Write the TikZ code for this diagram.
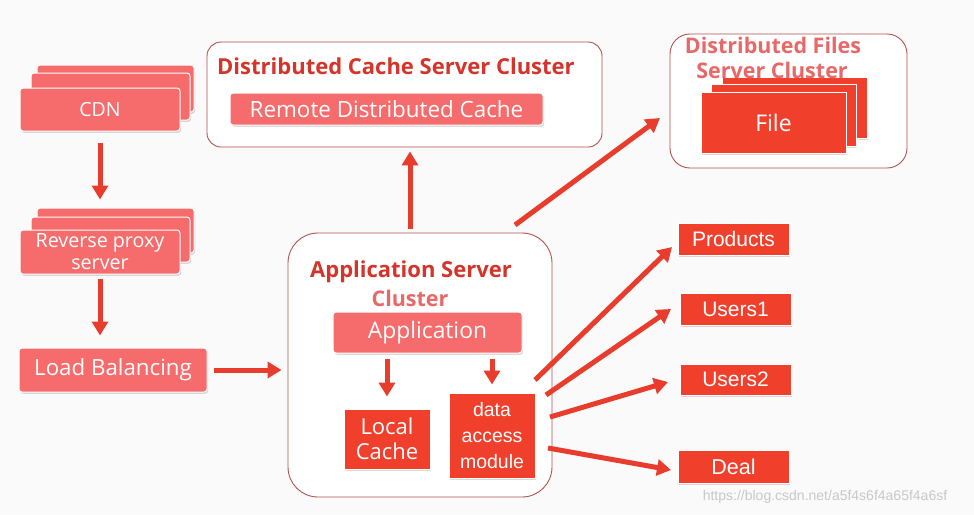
\documentclass[tikz,border=0pt]{standalone}
\usepackage{fontspec}
\setmainfont{Open Sans}
\newfontfamily\arialf{Liberation Sans}
\usetikzlibrary{arrows.meta,shadows,calc}
\definecolor{bgc}{RGB}{250,250,250}
\definecolor{salmon}{RGB}{246,108,108}
\definecolor{brightred}{RGB}{240,64,44}
\definecolor{bordc}{RGB}{178,82,78}
\definecolor{titlered}{RGB}{212,52,42}
\definecolor{titlelight}{RGB}{232,104,104}
\definecolor{arrowred}{RGB}{232,60,44}
\definecolor{wmark}{RGB}{200,200,200}
\begin{document}
\begin{tikzpicture}[x=1pt,y=-1pt,
  shad/.style={drop shadow={shadow xshift=1.2pt,shadow yshift=-1.8pt,fill=black,opacity=0.14}},
  pbox/.style={shad,rounded corners=3pt,fill=salmon,draw=white,line width=1pt,text=white,inner sep=0pt,anchor=center,align=center},
  rbox/.style={shad,fill=brightred,draw=white,line width=1pt,text=white,inner sep=0pt,anchor=center,align=center},
  clusterbox/.style={draw=bordc,line width=0.9pt,fill=white,inner sep=0pt,anchor=center},
  bigarrow/.style={draw=arrowred,line width=5pt,-{Triangle[width=16pt,length=14pt]}},
  ttl/.style={font=\bfseries\fontsize{22}{25}\selectfont,text=titlered,inner sep=0pt,align=center},
  ttllight/.style={font=\bfseries\fontsize{21.5}{25}\selectfont,text=titlelight,inner sep=0pt,align=center}
]
\fill[bgc] (0,0) rectangle (974,515);
\useasboundingbox (0,0) rectangle (974,515);

% CDN stack
\node[pbox,minimum width=157pt,minimum height=47pt] (cdnback) at (115.5,88.5) {};
\node[pbox,minimum width=159pt,minimum height=47pt] (cdnmid) at (110.5,96.5) {};
\node[pbox,minimum width=160pt,minimum height=43pt,font=\fontsize{19.5}{22}\selectfont] (cdn) at (100,109.5) {CDN};

% Reverse proxy stack
\node[pbox,minimum width=157pt,minimum height=45pt] (revback) at (115.5,230.5) {};
\node[pbox,minimum width=159pt,minimum height=45pt] (revmid) at (110.5,239.5) {};
\node[pbox,minimum width=160pt,minimum height=44pt,font=\fontsize{19.7}{22}\selectfont] (rev) at (100,252) {Reverse proxy\\server};

% Load balancing
\node[pbox,minimum width=188pt,minimum height=44pt,font=\fontsize{22.3}{24}\selectfont] (lb) at (113,370) {Load Balancing};

% Distributed cache cluster
\node[clusterbox,rounded corners=14pt,minimum width=395pt,minimum height=105pt] (dcsc) at (404.5,94.5) {};
\node[ttl,anchor=west] (dcsct) at (217,66) {Distributed Cache Server Cluster};
\node[pbox,minimum width=313pt,minimum height=32pt,font=\fontsize{22.4}{24}\selectfont] (rdc) at (386.5,109) {Remote Distributed Cache};

% Distributed files cluster
\node[clusterbox,rounded corners=20pt,minimum width=237pt,minimum height=134pt] (dfsc) at (788.5,101) {};
\node[rbox,minimum width=145pt,minimum height=61pt] (fileback) at (794.5,107.5) {};
\node[rbox,minimum width=145pt,minimum height=62pt] (filemid) at (783.5,115) {};
\node[rbox,minimum width=145pt,minimum height=61pt,font=\fontsize{23}{24}\selectfont] (file) at (773.5,122.5) {File};
\node[ttllight] (dfsct1) at (773,45) {Distributed Files};
\node[ttllight] (dfsct2) at (772,70) {Server Cluster};

% Application server cluster
\node[clusterbox,rounded corners=30pt,minimum width=264pt,minimum height=264pt] (appc) at (420,365) {};
\node[ttl,font=\bfseries\fontsize{22}{25}\selectfont] (appct1) at (411,272) {Application Server};
\node[ttllight] (appct2) at (410,298) {Cluster};
\node[pbox,minimum width=189pt,minimum height=41pt,font=\fontsize{22.8}{24}\selectfont] (app) at (427.5,332.5) {Application};
\node[rbox,minimum width=86pt,minimum height=60pt,font=\fontsize{22}{25}\selectfont] (lc) at (387,439) {Local\\Cache};
\node[rbox,minimum width=86pt,minimum height=85pt,font=\arialf\fontsize{19.5}{26}\selectfont] (dam) at (492,435.5) {data\\access\\module};

% Databases
\node[rbox,minimum width=111pt,minimum height=32pt,font=\arialf\fontsize{21}{24}\selectfont] (prod) at (733.5,239) {Products};
\node[rbox,minimum width=111pt,minimum height=32pt,font=\arialf\fontsize{21}{24}\selectfont] (us1) at (735.5,309) {Users1};
\node[rbox,minimum width=111pt,minimum height=31pt,font=\arialf\fontsize{21}{24}\selectfont] (us2) at (735.5,379.5) {Users2};
\node[rbox,minimum width=111pt,minimum height=33pt,font=\arialf\fontsize{21.5}{24}\selectfont] (deal) at (733.5,466.5) {Deal};

% watermark
\node[text=wmark,font=\arialf\fontsize{14}{16}\selectfont,inner sep=0pt] (wm) at (825,497) {https://blog.csdn.net/a5f4s6f4a65f4a6sf};

% Arrows
\draw[bigarrow,shorten <=11pt,shorten >=8pt] (cdn.south) -- (revback.north -| cdn.south);
\draw[bigarrow,shorten <=4pt,shorten >=12pt] (rev.south) -- (lb.north -| rev.south);
\draw[bigarrow,shorten <=6pt,shorten >=6pt] (lb.east) -- (lb.east -| appc.west);
\coordinate (upstart) at (410,229);
\draw[bigarrow,shorten >=4pt] (upstart) -- (upstart |- dcsc.south);
\coordinate (fstart) at (515,225);
\coordinate (fend) at (660,118);
\draw[bigarrow] (fstart) -- (fend);
\draw[bigarrow,shorten <=5pt,shorten >=12pt] (app.south -| lc.north) -- (lc.north);
\draw[bigarrow,shorten <=5pt,shorten >=8pt] (app.south -| dam.north) -- (dam.north);
\coordinate (d1) at (535,380);
\coordinate (d2) at (546,395);
\coordinate (d3) at (550,417);
\coordinate (d4) at (548,448);
\coordinate (e1) at (672,247);
\coordinate (e2) at (671,309);
\coordinate (e3) at (668,382);
\coordinate (e4) at (671,470);
\draw[bigarrow] (d1) -- (e1);
\draw[bigarrow] (d2) -- (e2);
\draw[bigarrow] (d3) -- (e3);
\draw[bigarrow] (d4) -- (e4);
\end{tikzpicture}
\end{document}
